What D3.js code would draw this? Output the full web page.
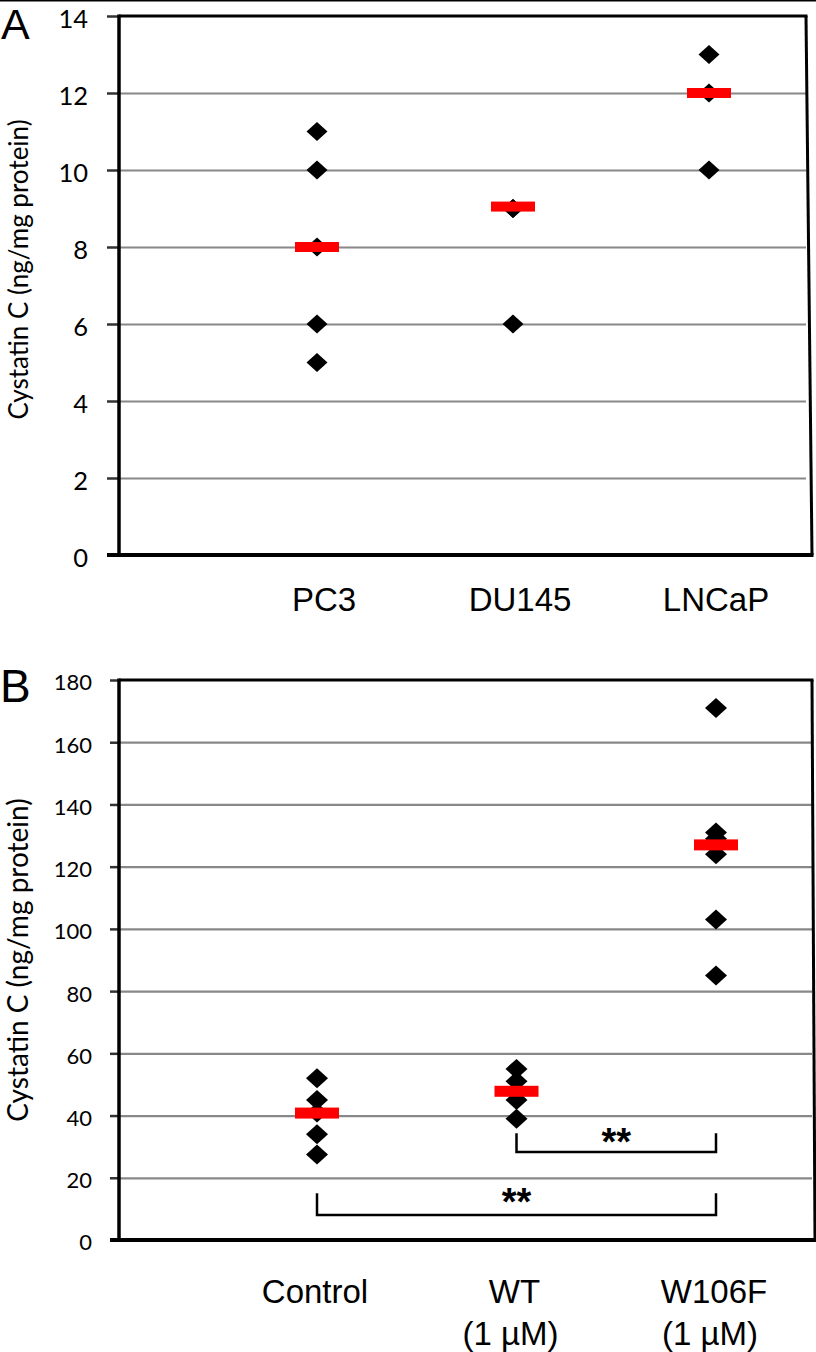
<!DOCTYPE html>
<html>
<head>
<meta charset="utf-8">
<script src="https://cdn.jsdelivr.net/npm/d3@7"></script>
<style>
  html, body { margin: 0; padding: 0; background: #fff; }
  svg { display: block; }
</style>
</head>
<body>
<svg id="chart" width="816" height="1352"></svg>
<script>
// ---------- DATA ----------
const categoriesA = ["PC3", "DU145", "LNCaP"];
const valuesA = [
  [11, 10, 8, 6, 5],
  [9, 9, 6],
  [13, 12, 10]
];
const mediansA = [8, 9.05, 12];
const ticksA = [0, 2, 4, 6, 8, 10, 12, 14];

const categoriesB = ["Control", "WT", "W106F"];
const subLabelsB = ["", "(1 µM)", "(1 µM)"];
const valuesB = [
  [52, 45, 41, 34, 27.5],
  [55, 51, 48, 45, 39],
  [171, 131, 129, 124, 103, 85]
];
const mediansB = [40.8, 47.8, 127];
const ticksB = [0, 20, 40, 60, 80, 100, 120, 140, 160, 180];

// significance brackets (data units)
const bracketFrom = ["WT", "Control"];
const bracketTo = ["W106F", "W106F"];
const bracketLevel = [28.3, 8];
const bracketTop = [34.3, 15];
const bracketText = ["**", "**"];

const yTitle = "Cystatin C (ng/mg protein)";

// ---------- DRAW ----------
const svg = d3.select("#chart");
svg.append("rect").attr("width", 816).attr("height", 1352).attr("fill", "#fff");
svg.append("rect").attr("x", 0).attr("y", 0).attr("width", 816).attr("height", 1.5).attr("fill", "#000");

function diamond(cx, cy, hw, hh) {
  return `M${cx},${cy - hh}L${cx + hw},${cy}L${cx},${cy + hh}L${cx - hw},${cy}Z`;
}

function panel(opt) {
  const g = svg.append("g");
  const y = d3.scaleLinear().domain([opt.ticks[0], opt.ticks[opt.ticks.length - 1]]).range([opt.bottom, opt.top]);
  const x = d3.scalePoint().domain(opt.categories).range(opt.xRange);
  const left = opt.left;

  // gridlines
  const grid = g.append("g").attr("transform", `translate(${left},0)`)
    .call(d3.axisRight(y).tickValues(opt.ticks.slice(1, -1)).tickSize(opt.rightTop - left).tickFormat(""));
  grid.select(".domain").remove();
  grid.selectAll(".tick line").attr("stroke", "#888").attr("stroke-width", 2.2);

  // y axis
  const ax = g.append("g").attr("transform", `translate(${left},0)`)
    .call(d3.axisLeft(y).tickValues(opt.ticks).tickSize(opt.tickLen).tickPadding(opt.tickPad));
  ax.select(".domain").remove();
  ax.selectAll(".tick line").attr("stroke", "#333").attr("stroke-width", 2.5);
  ax.selectAll(".tick text")
    .attr("font-family", "Lato, 'Open Sans', sans-serif")
    .attr("font-size", opt.tickFont)
    .attr("dy", "0.45em")
    .attr("fill", "#000");

  // frame
  const fr = g.append("g").attr("stroke", "#000").attr("fill", "none");
  fr.append("line").attr("x1", left).attr("x2", left).attr("y1", opt.top - 1.5).attr("y2", opt.bottom).attr("stroke-width", 3.5);
  fr.append("line").attr("x1", left).attr("x2", opt.rightTop + 1.5).attr("y1", opt.top).attr("y2", opt.top).attr("stroke-width", 3);
  fr.append("line").attr("x1", opt.rightTop).attr("x2", opt.rightBottom).attr("y1", opt.top).attr("y2", opt.bottom).attr("stroke-width", 3);
  fr.append("line").attr("x1", left - opt.tickLen).attr("x2", opt.rightBottom + 1.5).attr("y1", opt.bottom).attr("y2", opt.bottom).attr("stroke-width", 4);

  // points
  opt.categories.forEach((c, i) => {
    g.append("g").selectAll("path").data(opt.values[i]).join("path")
      .attr("d", v => diamond(x(c), y(v), opt.dHalfW, opt.dHalfH))
      .attr("fill", "#000");
  });
  // medians
  g.append("g").selectAll("rect").data(opt.medians).join("rect")
    .attr("x", (m, i) => x(opt.categories[i]) - opt.barW / 2)
    .attr("y", m => y(m) - opt.barH / 2)
    .attr("width", opt.barW).attr("height", opt.barH)
    .attr("fill", "#ff0000");

  // category labels
  const lab = g.append("g").attr("font-family", "'Liberation Sans', Arial, sans-serif")
    .attr("font-size", 33).attr("text-anchor", "middle").attr("fill", "#000");
  opt.categories.forEach((c, i) => {
    lab.append("text").attr("x", x(c) + opt.labelDx).attr("y", opt.labelY).text(c);
    if (opt.sub && opt.sub[i]) {
      lab.append("text").attr("x", x(c) + opt.labelDx - 4).attr("y", opt.labelY + 42).text(opt.sub[i]);
    }
  });

  // y title
  g.append("text")
    .attr("transform", `translate(${opt.titleX},${(opt.top + opt.bottom) / 2 + opt.titleDy}) rotate(-90)`)
    .attr("text-anchor", "middle")
    .attr("font-family", "Lato, 'Open Sans', sans-serif")
    .attr("font-size", opt.titleFont)
    .attr("fill", "#000")
    .text(yTitle);

  // panel letter
  svg.append("text").attr("x", opt.letterX).attr("y", opt.letterY)
    .attr("font-family", "'Liberation Sans', Arial, sans-serif")
    .attr("font-size", opt.letterFont).attr("fill", "#000").text(opt.letter);

  return { x, y, g };
}

panel({
  categories: categoriesA, values: valuesA, medians: mediansA, ticks: ticksA,
  top: 16, bottom: 555, left: 119, rightTop: 806, rightBottom: 812,
  xRange: [317, 709], tickLen: 12, tickPad: 19, tickFont: 25.5,
  dHalfW: 10.5, dHalfH: 9.5, barW: 44, barH: 10,
  labelY: 611, labelDx: 7, titleX: 28, titleDy: -16, titleFont: 26,
  letter: "A", letterX: 1, letterY: 39, letterFont: 43
});

const pB = panel({
  categories: categoriesB, values: valuesB, medians: mediansB, ticks: ticksB, sub: subLabelsB,
  top: 680, bottom: 1240, left: 119, rightTop: 812, rightBottom: 815,
  xRange: [317, 716], tickLen: 9, tickPad: 18, tickFont: 22,
  dHalfW: 11, dHalfH: 10, barW: 44, barH: 11,
  labelY: 1303, labelDx: -2, titleX: 28, titleDy: 0, titleFont: 28,
  letter: "B", letterX: 0, letterY: 702, letterFont: 46
});

// brackets
const br = pB.g.append("g");
bracketFrom.forEach((f, i) => {
  const x1 = pB.x(f), x2 = pB.x(bracketTo[i]);
  const yl = pB.y(bracketLevel[i]), yt = pB.y(bracketTop[i]);
  br.append("path")
    .attr("d", `M${x1},${yt}V${yl}H${x2}V${yt}`)
    .attr("fill", "none").attr("stroke", "#000").attr("stroke-width", 2.5);
  br.append("text")
    .attr("x", (x1 + x2) / 2).attr("y", yt + 22)
    .attr("text-anchor", "middle")
    .attr("font-family", "'Liberation Sans', Arial, sans-serif")
    .attr("font-weight", "bold").attr("font-size", 38)
    .text(bracketText[i]);
});
</script>
</body>
</html>
